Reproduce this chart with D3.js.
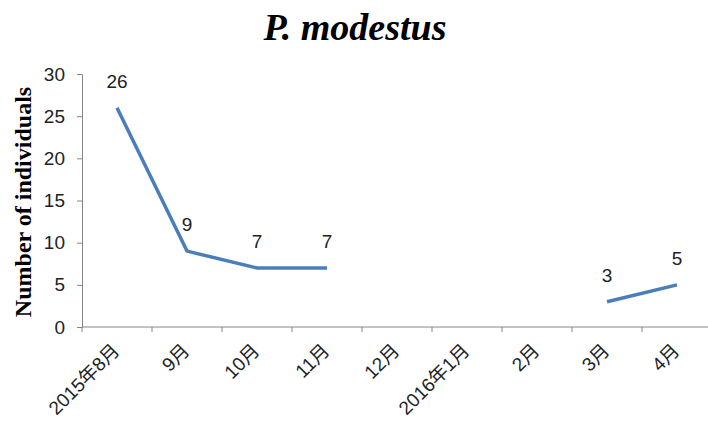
<!DOCTYPE html>
<html>
<head>
<meta charset="utf-8">
<script src="https://cdn.jsdelivr.net/npm/d3@7"></script>
<style>
  body { margin: 0; background: #fff; }
  svg { display: block; }
</style>
</head>
<body>
<script>
// months along the x axis
var months = ["2015年8月", "9月", "10月", "11月", "12月", "2016年1月", "2月", "3月", "4月"];
// counts, null where nothing was sampled
var counts = [26, 9, 7, 7, null, null, null, 3, 5];
var yTicks = [0, 5, 10, 15, 20, 25, 30];

var W = 708, H = 427;
var pLeft = 82, pRight = 712, pTop = 74, pBottom = 327;
var tickFont = "'Liberation Sans', 'Noto Sans CJK SC', sans-serif";

var svg = d3.select("body").append("svg")
  .attr("width", W)
  .attr("height", H);

var x = d3.scaleBand().domain(months).range([pLeft, pRight]);
var y = d3.scaleLinear().domain([0, 30]).range([pBottom, pTop]);

// y axis
var yAxis = svg.append("g")
  .attr("transform", "translate(" + pLeft + ",0)")
  .call(d3.axisLeft(y).tickValues(yTicks).tickSize(5).tickPadding(12));
yAxis.select(".domain").attr("stroke", "#868686");
yAxis.selectAll(".tick line").attr("stroke", "#868686");
yAxis.selectAll("text")
  .attr("font-family", tickFont)
  .attr("font-size", "19px")
  .attr("fill", "#222");

// x axis, ticks on the band edges like excel
var xAxis = svg.append("g")
  .attr("transform", "translate(0," + pBottom + ")");
xAxis.append("line")
  .attr("x1", pLeft).attr("x2", pRight)
  .attr("stroke", "#868686");
xAxis.selectAll("line.tk").data(months).enter().append("line")
  .attr("class", "tk")
  .attr("x1", function(d) { return x(d); })
  .attr("x2", function(d) { return x(d); })
  .attr("y1", 0).attr("y2", 5)
  .attr("stroke", "#868686");
xAxis.selectAll("text").data(months).enter().append("text")
  .text(function(d) { return d; })
  .attr("transform", function(d) {
    return "translate(" + (x(d) + x.bandwidth() / 2 - 1) + ",20) rotate(-45)";
  })
  .attr("text-anchor", "end")
  .attr("dy", "0.35em")
  .attr("font-family", tickFont)
  .attr("font-size", "19px")
  .attr("fill", "#222");

// the line, broken where there is no data
var pts = months.map(function(m, i) { return { m: m, v: counts[i] }; });
var line = d3.line()
  .defined(function(d) { return d.v != null; })
  .x(function(d) { return x(d.m) + x.bandwidth() / 2; })
  .y(function(d) { return y(d.v); });
svg.append("path")
  .datum(pts)
  .attr("d", line)
  .attr("fill", "none")
  .attr("stroke", "#4a7ebb")
  .attr("stroke-width", 3.5);

// value labels
svg.selectAll("text.val")
  .data(pts.filter(function(d) { return d.v != null; }))
  .enter().append("text")
  .attr("class", "val")
  .text(function(d) { return d.v; })
  .attr("x", function(d) { return x(d.m) + x.bandwidth() / 2; })
  .attr("y", function(d) { return y(d.v) - 20; })
  .attr("text-anchor", "middle")
  .attr("font-family", tickFont)
  .attr("font-size", "19px")
  .attr("fill", "#222");

// title
svg.append("text")
  .text("P. modestus")
  .attr("x", 355).attr("y", 40)
  .attr("text-anchor", "middle")
  .attr("font-family", "'Liberation Serif', 'DejaVu Serif', serif")
  .attr("font-weight", "bold")
  .attr("font-style", "italic")
  .attr("font-size", "38px");

// y label
svg.append("text")
  .text("Number of individuals")
  .attr("transform", "translate(31,202) rotate(-90)")
  .attr("text-anchor", "middle")
  .attr("font-family", "'Liberation Serif', 'DejaVu Serif', serif")
  .attr("font-weight", "bold")
  .attr("font-size", "24px");
</script>
</body>
</html>
